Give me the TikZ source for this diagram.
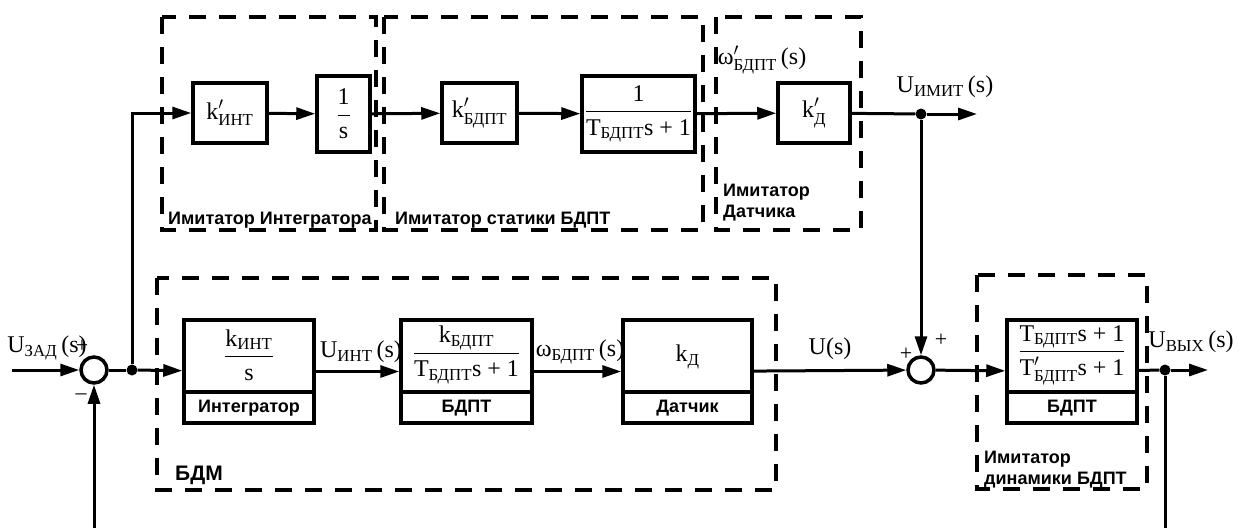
\documentclass[tikz,border=0pt]{standalone}
\usepackage{amsmath}
\usepackage{fontspec}
\setmainfont{Liberation Serif}
\newfontfamily\capfont{Liberation Sans}
\usetikzlibrary{arrows.meta}
\newcommand\vv[2]{\ensuremath{\text{#1}_{\text{#2}}}}
\newcommand\vp[2]{\ensuremath{\text{#1}'_{\text{#2}}}}
\begin{document}
\begin{tikzpicture}[x=1pt,y=-1pt,
  every node/.style={font=\fontsize{24}{26}\selectfont, inner sep=0pt},
  blk/.style={draw, line width=3.5pt, inner sep=0pt},
  wire/.style={line width=3pt},
  arr/.style={wire,-{Triangle[length=19pt,width=12pt]}},
  grp/.style={line width=3.5pt, dash pattern=on 17pt off 13pt},
  grpcap/.style={font=\capfont\bfseries\fontsize{18}{21}\selectfont, anchor=base west, align=left},
  incap/.style={font=\capfont\bfseries\fontsize{18}{21}\selectfont},
  sumc/.style={circle, draw, line width=3.5pt, minimum size=26pt, inner sep=0pt},
  dot/.style={circle, fill, minimum size=11pt, inner sep=0pt},
  sign/.style={font=\fontsize{22}{24}\selectfont}
]
\useasboundingbox (0,0) rectangle (1240,528);

% dashed groups
\draw[grp] (162,17) rectangle (376,230);
\draw[grp] (384,17) rectangle (703,230);
\draw[grp] (716,17) rectangle (861,230);
\draw[grp] (157,278) rectangle (776,490);
\draw[grp] (977,275) rectangle (1147,489);

\node[grpcap] (gA) at (168,224) {Имитатор Интегратора};
\node[grpcap] (gB) at (395,224) {Имитатор статики БДПТ};
\node[grpcap] (gC) at (723,196) {Имитатор};
\node[grpcap] (gC2) at (723,217) {Датчика};
\node[grpcap, font=\capfont\bfseries\fontsize{21}{24}\selectfont] (gD) at (175,480) {БДМ};
\node[grpcap] (gE) at (984,463) {Имитатор};
\node[grpcap] (gE2) at (984,484) {динамики БДПТ};

% top row blocks
\node[blk, minimum width=74pt, minimum height=60pt] (kint) at (230,113) {\vp{k}{ИНТ}};
\node[blk, minimum width=53pt, minimum height=76pt] (si) at (343.5,114) {$\dfrac{\text{1}}{\text{s}}$};
\node[blk, minimum width=75pt, minimum height=60pt] (kb) at (479.5,113) {\vp{k}{БДПТ}};
\node[blk, minimum width=113pt, minimum height=76pt] (tb) at (638.5,114) {$\dfrac{\text{1}}{\text{T}_{\text{БДПТ}}\text{s + 1}}$};
\node[blk, minimum width=72pt, minimum height=60pt] (kd) at (814,113) {\vp{k}{Д}};

% bottom row blocks
\node[blk, minimum width=130pt, minimum height=103pt] (int) at (249,371.5) {};
\node[blk, minimum width=131pt, minimum height=103pt] (bd) at (466.5,371.5) {};
\node[blk, minimum width=129pt, minimum height=103pt] (dat) at (687.5,371.5) {};
\node[blk, minimum width=130pt, minimum height=103pt] (dyn) at (1072,371.5) {};
\foreach \b in {int,bd,dat,dyn}{
  \draw[line width=3.5pt] (\b.west |- 0,392) -- (\b.east |- 0,392);
}
\node (intf) at (249,355) {$\dfrac{\text{k}_{\text{ИНТ}}}{\text{s}}$};
\node (bdf) at (466.5,355) {$\dfrac{\text{k}_{\text{БДПТ}}}{\text{T}_{\text{БДПТ}}\text{s + 1}}$};
\node (datf) at (687.5,357) {\vv{k}{Д}};
\node (dynf) at (1072,355) {$\dfrac{\text{T}_{\text{БДПТ}}\text{s + 1}}{\text{T}'_{\text{БДПТ}}\text{s + 1}}$};
\node[incap] (intc) at (249,408) {Интегратор};
\node[incap] (bdc) at (466.5,408) {БДПТ};
\node[incap] (datc) at (687.5,408) {Датчик};
\node[incap] (dync) at (1072,408) {БДПТ};

% summing junctions and dots
\node[sumc] (s1) at (94,370) {};
\node[sumc] (s2) at (921,370) {};
\node[dot] (d1) at (132,370) {};
\node[dot] (d2) at (921,114) {};
\node[dot] (d3) at (1165,370) {};
\coordinate (in) at (12,370);
\coordinate (o1) at (977,114);
\coordinate (o2) at (1208,370);
\coordinate (fb1) at (94,528);
\coordinate (fb2) at (1165,528);

% signal labels
\node (lzad) at (47,348) {\vv{U}{ЗАД}\,(s)};
\node (lint) at (361,352) {\vv{U}{ИНТ}\,(s)};
\node (lw) at (580,352) {\vv{ω}{БДПТ}\,(s)};
\node (lu) at (830,349) {U(s)};
\node (lvyx) at (1191,342) {\vv{U}{ВЫХ}\,(s)};
\node (lwp) at (762,60) {\vp{ω}{БДПТ}\,(s)};
\node (limit) at (945,87) {\vv{U}{ИМИТ}\,(s)};

\node[sign] (p1) at (82,346) {+};
\node[sign] (m1) at (81,397) {\textendash};
\node[sign] (p2) at (906,354) {+};
\node[sign] (p3) at (941,340) {+};

% connectors
\draw[arr] (in) -- (s1);
\draw[wire] (s1) -- (d1);
\draw[arr] (d1) -- (int);
\draw[arr] (d1) |- (kint);
\draw[arr] (kint) -- (si);
\draw[arr] (si) -- (kb);
\draw[arr] (kb) -- (tb);
\draw[arr] (tb) -- (kd);
\draw[wire] (kd) -- (d2);
\draw[arr] (d2) -- (o1);
\draw[arr] (d2) -- (s2);
\draw[arr] (int) -- (bd);
\draw[arr] (bd) -- (dat);
\draw[arr] (dat) -- (s2);
\draw[arr] (s2) -- (dyn);
\draw[wire] (dyn) -- (d3);
\draw[arr] (d3) -- (o2);
\draw[wire] (d3) -- (fb2);
\draw[arr] (fb1) -- (s1);
\end{tikzpicture}
\end{document}
